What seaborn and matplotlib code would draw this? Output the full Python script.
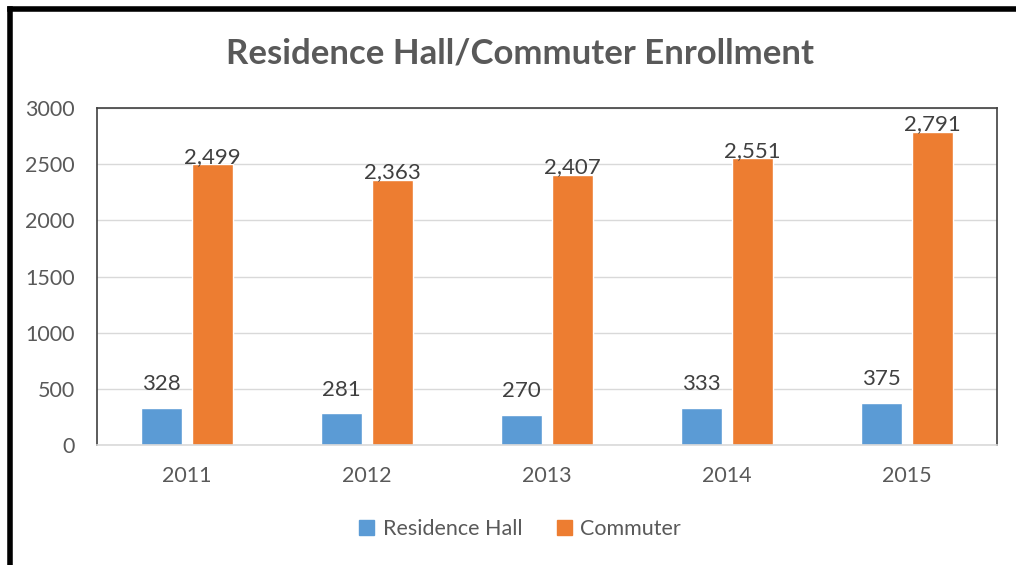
import numpy as np
import pandas as pd
import matplotlib.pyplot as plt
from matplotlib.lines import Line2D
import seaborn as sns

years = ["2011", "2012", "2013", "2014", "2015"]
residence_hall = [328, 281, 270, 333, 375]
commuter = [2499, 2363, 2407, 2551, 2791]
series_names = ["Residence Hall", "Commuter"]
colors = ["#5B9BD5", "#ED7D31"]

df = pd.DataFrame({
    "year": years * 2,
    "value": residence_hall + commuter,
    "series": [series_names[0]] * len(years) + [series_names[1]] * len(years),
})

sns.set_theme(style="white")
plt.rcParams["font.family"] = ["Lato", "DejaVu Sans"]

fig = plt.figure(figsize=(10.16, 5.65), dpi=100)
ax = fig.add_axes([0.0955, 0.2124, 0.8858, 0.5964])

sns.barplot(data=df, x="year", y="value", hue="series", palette=colors,
            saturation=1, width=0.567, gap=0.19, ax=ax, legend=False,
            errorbar=None)

text_c = "#595959"
ax.set_ylim(0, 3000)
ax.set_yticks(np.arange(0, 3001, 500))
ax.set_xlabel("")
ax.set_ylabel("")
ax.yaxis.grid(True, color="#D9D9D9", linewidth=1)
ax.set_axisbelow(True)
ax.tick_params(axis="both", length=0, labelsize=15.5, labelcolor=text_c)
ax.tick_params(axis="x", pad=15)
ax.tick_params(axis="y", pad=16)
for s in ["left", "top", "right"]:
    ax.spines[s].set_color("#404040")
    ax.spines[s].set_linewidth(1.2)
ax.spines["bottom"].set_color("#D9D9D9")
ax.spines["bottom"].set_linewidth(1.2)

for cont in ax.containers:
    ax.bar_label(cont, labels=[f"{v:,.0f}" for v in cont.datavalues],
                 fontsize=16, color="#404040",
                 padding=-2 if cont.datavalues[0] > 1000 else 10)

fig.text(0.512, 0.905, "Residence Hall/Commuter Enrollment", ha="center",
         va="center", fontsize=25, fontweight="bold", color=text_c)

handles = [plt.Rectangle((0, 0), 1, 1, color=c) for c in colors]
fig.legend(handles, series_names, loc="center", bbox_to_anchor=(0.512, 0.063),
           ncol=2, frameon=False, fontsize=15.5, labelcolor=text_c,
           handlelength=0.7, handleheight=0.7, handletextpad=0.4, columnspacing=1.6)

# thick black frame on left and top edges
fig.add_artist(Line2D([0.0103, 0.0103], [0.0, 0.984], color="black", linewidth=4,
                      transform=fig.transFigure, solid_capstyle="projecting"))
fig.add_artist(Line2D([0.0103, 1.0], [0.984, 0.984], color="black", linewidth=4,
                      transform=fig.transFigure, solid_capstyle="projecting"))

fig.savefig("out.png", dpi=100)
